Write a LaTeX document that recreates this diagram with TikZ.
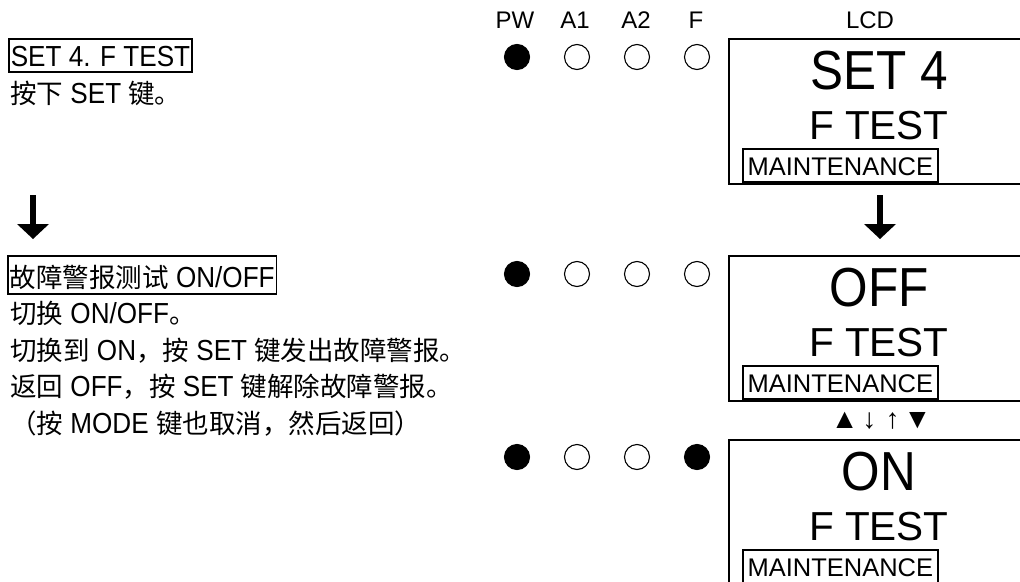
\documentclass[tikz,border=0pt]{standalone}
\usepackage{fontspec}
\setmainfont{Liberation Sans}
\newfontfamily\narrowfont[FakeStretch=0.9]{Liberation Sans}
\newfontfamily\cjkfont{Noto Sans CJK SC}
\usetikzlibrary{arrows.meta}
\newcommand\zh[1]{{\cjkfont\fontsize{26.5}{32}\selectfont #1}}
\newcommand\bodyfont{\narrowfont\fontsize{29}{36}\selectfont}
\tikzset{
  body/.style={anchor=base west, inner sep=0pt, font=\bodyfont},
  framed/.style={body, draw, line width=1.6pt, inner xsep=2pt, inner ysep=0pt},
  led/.style={circle, draw, line width=1.1pt, minimum size=25pt, inner sep=0pt},
  ledon/.style={led, fill=black},
  hdr/.style={anchor=base, inner sep=0pt, font=\fontsize{24}{28}\selectfont},
  lcd/.style={draw, line width=1.8pt, anchor=north west, minimum width=320pt, minimum height=145pt, inner sep=0pt},
  bigword/.style={anchor=base, inner sep=0pt, font=\narrowfont\fontsize{55}{60}\selectfont},
  midword/.style={anchor=base, inner sep=0pt, font=\fontsize{40.5}{44}\selectfont},
  maint/.style={draw, line width=1.6pt, anchor=south west, minimum width=195pt, minimum height=33pt, inner xsep=1pt, inner ysep=0pt, text height=19pt, text depth=0pt, font=\fontsize{25.5}{30}\selectfont},
  bigarrow/.style={line width=6pt, -{Triangle[width=32pt,length=15pt,line width=0pt]}},
  symb/.style={anchor=base, inner sep=0pt, font=\fontsize{28}{32}\selectfont}
}
\begin{document}
\begin{tikzpicture}[x=1pt,y=-1pt]
\useasboundingbox (0,0) rectangle (1020,581);
\clip (0,0) rectangle (1020,581);

% left column text
\node[framed] (s4) at (8,66) [text height=27pt, text depth=6pt] {SET 4. F TEST};
\node[body] (s4b) at (10,103) {\zh{按下} SET \zh{键。}};

\coordinate (la1) at (33,195);
\coordinate (la2) at (33,239);
\draw[bigarrow] (la1) -- (la2);

\node[framed] (ft) at (7,287) [text height=31pt, text depth=7pt] {\zh{故障警报测试} ON/OFF};
\node[body] (l2) at (10,323.5) {\zh{切换} ON/OFF\zh{。}};
\node[body] (l3) at (10,360) {\zh{切换到} ON\zh{，按} SET \zh{键发出故障警报。}};
\node[body] (l4) at (10,396.5) {\zh{返回} OFF\zh{，按} SET \zh{键解除故障警报。}};
\node[body] (l5) at (10,433) {\zh{（按} MODE \zh{键也取消，然后返回）}};

% headers
\node[hdr] (hpw) at (515,28) {PW};
\node[hdr] (ha1) at (575,28) {A1};
\node[hdr] (ha2) at (636,28) {A2};
\node[hdr] (hf) at (696,28) {F};
\node[hdr] (hlcd) at (870,28) {LCD};

% LEDs row 1
\node[ledon] (p1) at (517,57) {};
\node[led] (a11) at (577,57) {};
\node[led] (a21) at (637,57) {};
\node[led] (f1) at (697,57) {};
% row 2
\node[ledon] (p2) at (517,274) {};
\node[led] (a12) at (577,274) {};
\node[led] (a22) at (637,274) {};
\node[led] (f2) at (697,274) {};
% row 3
\node[ledon] (p3) at (517,457) {};
\node[led] (a13) at (577,457) {};
\node[led] (a23) at (637,457) {};
\node[ledon] (f3) at (697,457) {};

% LCD screens
\node[lcd] (lcd1) at (728,38) {};
\node[bigword] (w1) at (879,89) {SET 4};
\node[midword] (m1) at (879,139) {F TEST};
\node[maint] (mt1) at (742,183) {MAINTENANCE};

\coordinate (ra1) at (880,195);
\coordinate (ra2) at (880,239);
\draw[bigarrow] (ra1) -- (ra2);

\node[lcd] (lcd2) at (728,255) {};
\node[bigword] (w2) at (879,306) {OFF};
\node[midword] (m2) at (879,356) {F TEST};
\node[maint] (mt2) at (742,400) {MAINTENANCE};

\node[symb] (keys) at (881,428) {▲\kern4pt↓\kern9pt↑\kern4pt▼};

\node[lcd] (lcd3) at (728,439) {};
\node[bigword] (w3) at (879,490) {ON};
\node[midword] (m3) at (879,540) {F TEST};
\node[maint] (mt3) at (742,584) {MAINTENANCE};
\end{tikzpicture}
\end{document}
